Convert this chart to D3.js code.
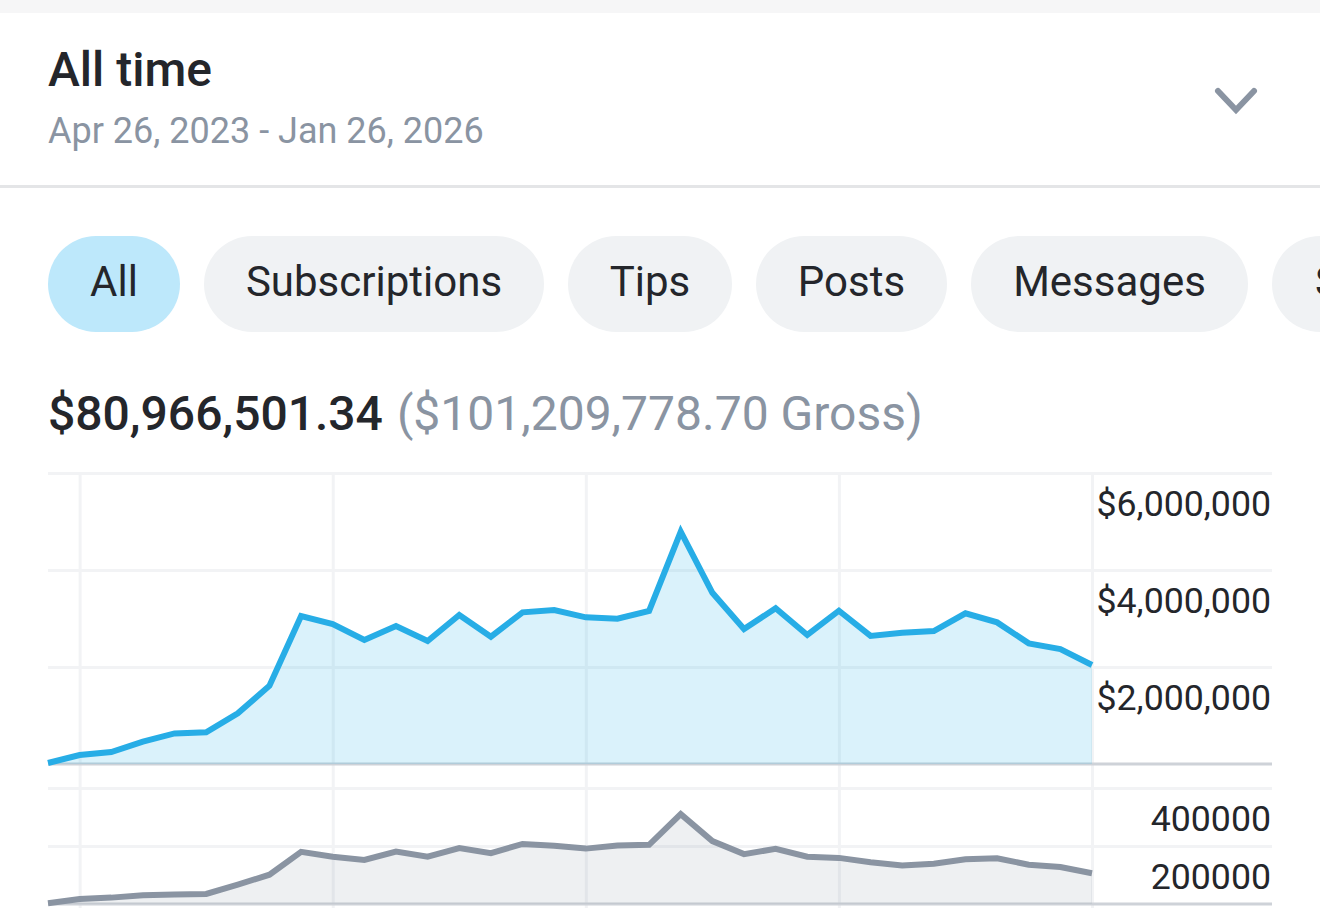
<!DOCTYPE html>
<html>
<head>
<meta charset="utf-8">
<script src="https://cdn.jsdelivr.net/npm/d3@7/dist/d3.min.js"></script>
<style>
html,body{margin:0;padding:0;background:#fff;overflow:hidden;}
svg{display:block;font-family:Roboto,sans-serif;}
.grid line{stroke:#f2f3f5;stroke-width:3;}
.grid path{display:none;}
.ticks path,.ticks line{display:none;}
.ticks text{font-family:Roboto,sans-serif;font-size:35.7px;fill:#24262b;}
</style>
</head>
<body>
<svg id="canvas" width="1320" height="908"></svg>
<script>
//data, one point per month
var months = ['Apr 2023','May 2023','Jun 2023','Jul 2023','Aug 2023','Sep 2023','Oct 2023','Nov 2023','Dec 2023',
    'Jan 2024','Feb 2024','Mar 2024','Apr 2024','May 2024','Jun 2024','Jul 2024','Aug 2024','Sep 2024','Oct 2024','Nov 2024','Dec 2024',
    'Jan 2025','Feb 2025','Mar 2025','Apr 2025','May 2025','Jun 2025','Jul 2025','Aug 2025','Sep 2025','Oct 2025','Nov 2025','Dec 2025',
    'Jan 2026'];
var earnings = [20000,186000,247000,460000,630000,654000,1045000,1615000,3050000,
    2887000,2557000,2845000,2536000,3072000,2625000,3127000,3175000,3024000,2996000,3155000,4790000,
    3530000,2784000,3210000,2660000,3160000,2640000,2707000,2742000,3107000,2920000,2488000,2371000,
    2041000];
var counts = [2400,17000,22000,30000,33000,34500,66500,101000,180000,
    163000,152000,181000,163000,193000,175000,207000,201000,191000,202000,204000,310000,
    217000,172000,190000,163000,159000,144000,133000,139000,154000,157500,135500,127500,
    106000];
var earningsTicks = [2000000,4000000,6000000];
var countTicks = [200000,400000];
var gridMonths = ['May 2023','Jan 2024','Sep 2024','May 2025','Jan 2026'];
var tabs = ['All','Subscriptions','Tips','Posts','Messages','Streams'];
var tabEdges = [[48,180],[204,544],[568,732],[756,947],[971,1248],[1272,1500]];

var svg = d3.select('#canvas');
var ink = '#24262b', muted = '#8a94a2';

//page header
svg.append('rect').attr('width',1320).attr('height',13).attr('fill','#f6f6f7');
svg.append('rect').attr('y',185).attr('width',1320).attr('height',3).attr('fill','#e4e5e7');
svg.append('text').attr('x',48).attr('y',86).attr('font-size',48).attr('font-weight',500).attr('fill',ink).text('All time');
svg.append('text').attr('x',48).attr('y',143).attr('font-size',36).attr('fill',muted).text('Apr 26, 2023 - Jan 26, 2026');
svg.append('path').attr('d',d3.line()([[1218,91],[1236,110],[1254,91]]))
    .attr('fill','none').attr('stroke',muted).attr('stroke-width',6).attr('stroke-linecap','round').attr('stroke-linejoin','miter');

//filter pills
var pills = svg.selectAll('.pill').data(tabs).enter().append('g').attr('class','pill');
pills.append('rect')
    .attr('x',function(d,i){return tabEdges[i][0]})
    .attr('y',236)
    .attr('width',function(d,i){return tabEdges[i][1]-tabEdges[i][0]})
    .attr('height',96)
    .attr('rx',48)
    .attr('fill',function(d,i){return i==0 ? '#bde8fb' : '#f0f2f4'});
pills.append('text')
    .attr('x',function(d,i){return i==5 ? 1315 : (tabEdges[i][0]+tabEdges[i][1])/2})
    .attr('y',296)
    .attr('text-anchor',function(d,i){return i==5 ? 'start' : 'middle'})
    .attr('font-size',42)
    .attr('fill',ink)
    .text(function(d){return d});

//totals
var total = svg.append('text').attr('x',48).attr('y',430).attr('font-size',48);
total.append('tspan').attr('font-weight',500).attr('fill',ink).text('$80,966,501.34');
total.append('tspan').attr('dx',14).attr('fill',muted).text('($101,209,778.70 Gross)');

//shared x scale
var scaleX = d3.scalePoint().domain(months).range([48,1092]);

function drawChart(values,ticks,top,bottom,max,lineColor,fillColor,tickFormat,gridBottom)
{
    var scaleY = d3.scaleLinear().domain([0,max]).range([bottom,top]);

    //horizontal grid
    svg.append('g').attr('class','grid')
        .attr('transform','translate(48,0)')
        .call(d3.axisRight(scaleY).tickValues(ticks.concat([max])).tickSize(1224).tickFormat(''));

    //vertical grid
    svg.append('g').attr('class','grid')
        .attr('transform','translate(0,'+gridBottom+')')
        .call(d3.axisTop(scaleX).tickValues(gridMonths).tickSize(gridBottom-top).tickFormat(''));

    //baseline
    svg.append('line')
        .attr('x1',48).attr('x2',1272)
        .attr('y1',scaleY(0)).attr('y2',scaleY(0))
        .attr('stroke','#ced2d8').attr('stroke-width',3);

    var area = d3.area()
        .x(function(d,i){return scaleX(months[i])})
        .y0(scaleY(0))
        .y1(function(d){return scaleY(d)});
    var line = d3.line()
        .x(function(d,i){return scaleX(months[i])})
        .y(function(d){return scaleY(d)});

    svg.append('path').datum(values).attr('d',area).attr('fill',fillColor);
    svg.append('path').datum(values).attr('d',line)
        .attr('fill','none').attr('stroke',lineColor).attr('stroke-width',6).attr('stroke-linejoin','miter');

    //tick labels sit under their grid line, right aligned
    var axis = svg.append('g').attr('class','ticks')
        .attr('transform','translate(1271,0)')
        .call(d3.axisLeft(scaleY).tickValues(ticks).tickSize(0).tickPadding(0).tickFormat(tickFormat));
    axis.selectAll('text').attr('dy','1.2em').attr('font-family','Roboto');
}

drawChart(earnings,earningsTicks,473,764,6000000,'#27ade6','rgba(38,177,233,0.17)',function(d){return '$'+d3.format(',')(d)},788);
drawChart(counts,countTicks,788,904,400000,'#8a94a2','rgba(138,148,162,0.14)',function(d){return String(d)},908);
</script>
</body>
</html>
